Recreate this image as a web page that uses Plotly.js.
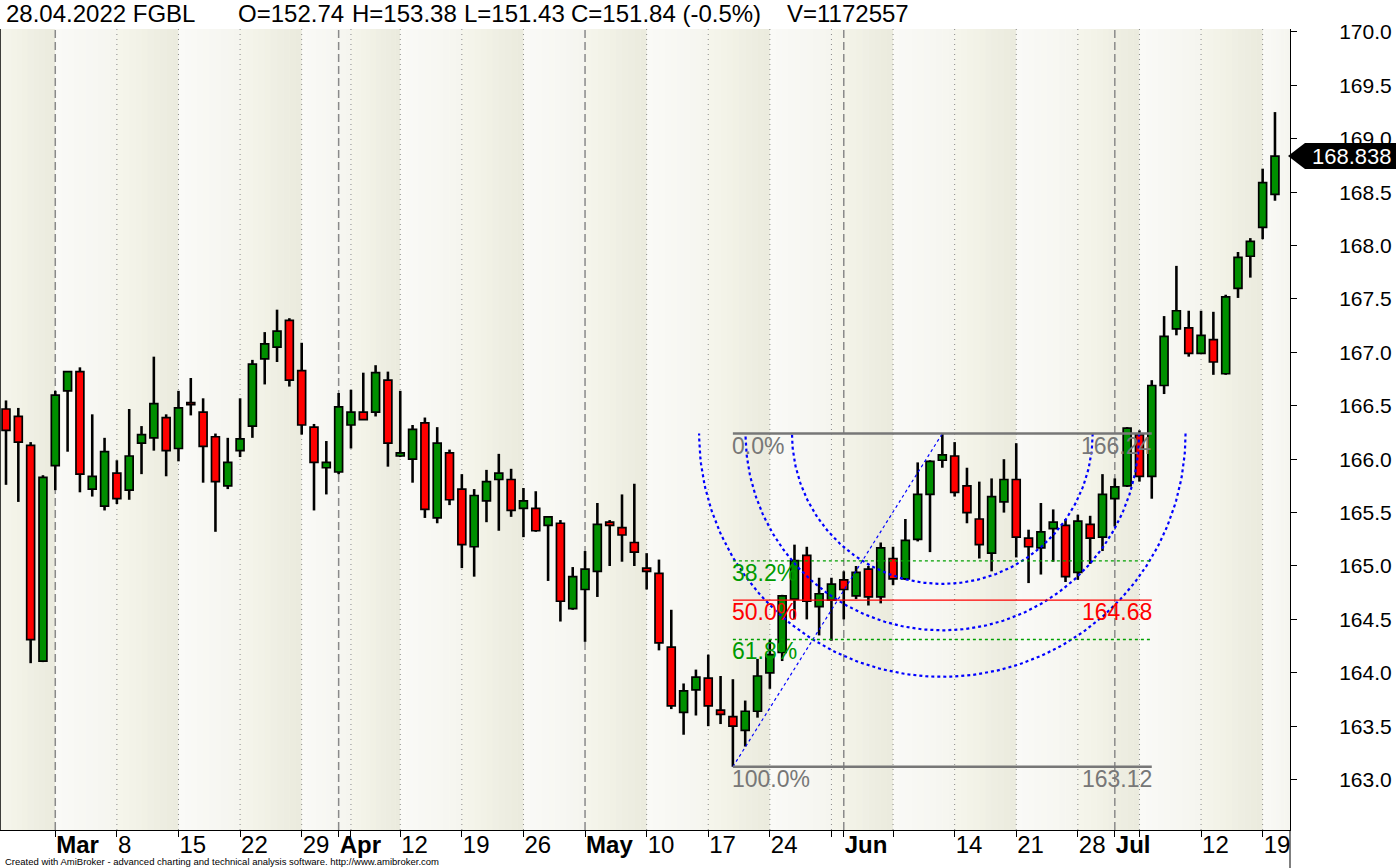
<!DOCTYPE html>
<html><head><meta charset="utf-8">
<script src="https://cdn.plot.ly/plotly-3.0.1.min.js"></script>
<style>html,body{margin:0;padding:0;background:#fff;} #chart{width:1396px;height:868px;}</style>
</head><body><div id="chart"></div>
<script>
// ---------------- DATA ----------------
const opens = [166.47,166.40,166.13,164.11,165.94,166.64,166.82,165.72,165.56,165.87,
 165.71,166.15,166.20,166.39,166.10,166.53,166.44,166.21,165.75,166.08,
 166.31,166.94,167.05,167.30,166.83,166.30,165.92,165.88,166.32,166.44,
 166.44,166.74,166.03,166.00,166.34,165.45,166.06,165.72,165.18,165.61,
 165.81,165.81,165.54,165.54,165.38,165.40,164.60,164.78,164.95,165.41,
 165.36,165.22,164.98,164.93,164.24,163.63,163.84,163.95,163.65,163.59,
 163.46,163.64,164.00,164.19,164.69,165.10,164.62,164.68,164.87,164.72,
 164.97,164.71,165.07,164.88,165.25,165.67,165.99,166.03,165.75,165.44,
 165.12,165.60,165.81,165.26,165.17,165.35,165.38,164.94,165.39,165.27,
 165.63,165.75,166.23,165.84,166.69,167.22,167.23,166.99,167.12,166.80,
 167.60,167.90,168.17,168.48];
const highs = [166.55,166.48,166.16,165.85,166.64,166.82,166.86,166.42,166.20,165.99,
 166.47,166.31,166.96,166.42,166.64,166.76,166.57,166.24,166.20,166.57,
 166.93,167.19,167.40,167.32,167.09,166.33,166.17,166.62,166.65,166.81,
 166.88,166.82,166.64,166.32,166.39,166.30,166.09,165.86,165.72,165.90,
 166.05,165.91,165.73,165.70,165.46,165.43,164.99,165.14,165.59,165.43,
 165.67,165.77,165.12,165.06,164.59,163.90,164.03,164.17,163.97,163.94,
 163.74,164.13,164.31,164.73,165.20,165.18,164.89,164.89,164.95,165.00,
 165.00,165.22,165.18,165.44,165.97,165.99,166.24,166.16,165.92,165.79,
 165.82,166.00,166.15,165.34,165.59,165.53,165.44,165.48,165.47,165.86,
 165.82,166.30,166.27,166.74,167.34,167.81,167.39,167.39,167.38,167.54,
 167.94,168.07,168.72,169.25];
const lows = [165.76,165.60,164.09,164.10,165.71,166.07,165.69,165.65,165.52,165.58,
 165.62,165.86,166.08,165.84,165.98,166.41,165.78,165.32,165.72,166.02,
 166.20,166.70,166.91,166.68,166.23,165.52,165.67,165.86,166.10,166.37,
 166.40,165.93,166.02,165.78,165.45,165.40,165.57,164.98,164.90,165.41,
 165.33,165.46,165.27,165.32,164.86,164.48,164.59,164.29,164.71,165.00,
 165.04,165.00,164.78,164.21,163.66,163.42,163.60,163.50,163.52,163.12,
 163.31,163.58,163.85,164.11,164.50,164.50,164.35,164.30,164.50,164.69,
 164.63,164.65,164.82,164.87,165.23,165.13,165.92,165.65,165.40,165.07,
 164.95,165.50,165.08,164.84,164.92,165.04,164.85,164.87,165.02,165.14,
 165.37,165.74,165.79,165.63,166.61,167.16,166.96,166.99,166.79,166.79,
 167.51,167.70,168.06,168.42];
const closes = [166.27,166.16,164.31,165.83,166.60,166.82,165.86,165.84,166.07,165.63,
 166.03,166.23,166.52,166.08,166.48,166.51,166.12,165.79,165.97,166.19,
 166.89,167.08,167.20,166.74,166.32,165.97,165.97,166.49,166.44,166.37,
 166.81,166.15,166.06,166.28,165.53,166.15,165.62,165.20,165.66,165.79,
 165.87,165.52,165.61,165.33,165.46,164.67,164.90,164.97,165.39,165.38,
 165.29,165.13,164.95,164.28,163.69,163.83,163.96,163.69,163.61,163.50,
 163.64,163.97,164.17,164.72,165.05,164.67,164.74,164.83,164.78,164.94,
 164.71,165.17,164.88,165.24,165.67,165.98,166.04,165.69,165.50,165.20,
 165.65,165.81,165.27,165.18,165.32,165.41,164.90,165.42,165.26,165.67,
 165.74,166.29,165.84,166.69,167.15,167.39,166.99,167.16,166.91,167.52,
 167.89,168.04,168.59,168.838];

// x-axis ticks (bar index of each tick) and their labels
const tickIdx  = [4, 9, 14, 19, 24, 27, 28, 32, 37, 42, 47, 52, 57, 62, 67, 68, 72, 77, 82, 87, 90, 92, 97, 102];
const tickText = ['<b>Mar</b>','8','15','22','29','<b>Apr</b>','','12','19','26','<b>May</b>','10','17','24','','<b>Jun</b>','','14','21','28','<b>Jul</b>','','12','19'];
const monthIdx = [4, 27, 47, 68, 90];
const weekIdx  = [4, 9, 14, 19, 24, 28, 32, 37, 42, 47, 52, 57, 62, 67, 72, 77, 82, 87, 92, 97, 102];

// y-axis tick values
const yTicks = [163.0,163.5,164.0,164.5,165.0,165.5,166.0,166.5,167.0,167.5,168.0,168.5,169.0,169.5,170.0];

// Fibonacci study anchors
const fibLowIdx = 59, fibLow = 163.12, fibHighIdx = 76, fibHigh = 166.24, fibEndIdx = 93;
const fibLevels = [0, 38.2, 50, 61.8, 100];
const arcLevels = [0.382, 0.5, 0.618];
const lastClose = 168.838;

// header line
const headerTexts = ['28.04.2022 FGBL','O=152.74','H=153.38','L=151.43','C=151.84 (-0.5%)','V=1172557'];
const footerText = 'Created with AmiBroker - advanced charting and technical analysis software. http://www.amibroker.com';

// ---------------- LAYOUT GEOMETRY ----------------
const W = 1396, H = 868;
const M = {l:0, r:106, t:29, b:38, pad:0};
const plotW = W - M.l - M.r, plotH = H - M.t - M.b;
const xRange = [-0.487, 104.22];
const yRange = [162.528, 170.028];
const sx = plotW / (xRange[1]-xRange[0]);
const sy = plotH / (yRange[1]-yRange[0]);
const FONT = 'Liberation Sans, Arial, sans-serif';
const headerX = [4, 236, 350, 462, 569, 785];

const idx = opens.map((_, i) => i);

// ---------------- TRACES ----------------
const GREEN = '#008f00', RED = '#ff0000';
const traces = [];
traces.push({
  type:'bar', x: idx, y: highs.map((h,i)=>h-lows[i]), base: lows,
  width: 0.21, marker:{color:'#000', line:{width:0}}, hoverinfo:'skip', showlegend:false
});
traces.push({
  type:'bar', x: idx,
  y: closes.map((c,i)=>Math.max(Math.abs(c-opens[i]), 0.004)),
  base: closes.map((c,i)=>Math.min(c, opens[i])),
  width: 0.64,
  marker:{color: closes.map((c,i)=> c>=opens[i] ? GREEN : RED), line:{color:'#000', width:1.7}},
  hoverinfo:'skip', showlegend:false
});

// diagonal trend of the fib study
traces.push({type:'scatter', mode:'lines', x:[fibLowIdx, fibHighIdx], y:[fibLow, fibHigh],
  line:{color:'#0000ff', width:1.2, dash:'dot'}, hoverinfo:'skip', showlegend:false});

// fib arcs (screen-space circles around the high point)
const dxp = (fibHighIdx-fibLowIdx)*sx, dyp = (fibHigh-fibLow)*sy;
const Lp = Math.hypot(dxp, dyp);
arcLevels.forEach(f => {
  const r = Lp*f, xs=[], ys=[];
  for (let a=0; a<=180; a+=1) {
    const t = a*Math.PI/180;
    xs.push(fibHighIdx + r*Math.cos(t)/sx);
    ys.push(fibHigh - r*Math.sin(t)/sy);
  }
  traces.push({type:'scatter', mode:'lines', x:xs, y:ys,
    line:{color:'#0000ff', width:2.2, dash:'dot'}, hoverinfo:'skip', showlegend:false});
});

// ---------------- SHAPES ----------------
const shapes = [];
function lerp(a,b,t){return Math.round(a+(b-a)*t);}
const edges = [xRange[0], ...weekIdx, xRange[1]];
for (let k=0; k<edges.length-1; k++) {
  const beige = k%2===0;
  const c0 = beige ? [245,245,235] : [250,250,247];
  const c1 = beige ? [235,235,222] : [245,245,239];
  const N = 10, a = edges[k], b = edges[k+1];
  for (let j=0; j<N; j++) {
    const t = j/(N-1);
    const col = `rgb(${lerp(c0[0],c1[0],t)},${lerp(c0[1],c1[1],t)},${lerp(c0[2],c1[2],t)})`;
    shapes.push({type:'rect', xref:'x', yref:'paper', x0:a+(b-a)*j/N, x1:a+(b-a)*(j+1)/N+0.03, y0:0, y1:1,
      fillcolor:col, line:{width:0}, layer:'below'});
  }
}
weekIdx.filter(i=>!monthIdx.includes(i)).forEach(i=>{
  shapes.push({type:'line', xref:'x', yref:'paper', x0:i, x1:i, y0:0, y1:1,
    line:{color:'#8a8a8a', width:1, dash:'1px,4px'}, layer:'below'});
});
monthIdx.forEach(i=>{
  shapes.push({type:'line', xref:'x', yref:'paper', x0:i, x1:i, y0:0, y1:1,
    line:{color:'#8a8a8a', width:1.5, dash:'8px,4px'}, layer:'below'});
});
// fib horizontal lines
const fibPrice = l => fibHigh - (fibHigh-fibLow)*l/100;
const fibStyle = {0:{c:'#777777',w:2.5,d:'solid'}, 38.2:{c:'#00a000',w:1.3,d:'3px,3px'}, 50:{c:'#ff0000',w:1.2,d:'solid'},
  61.8:{c:'#00a000',w:1.3,d:'3px,3px'}, 100:{c:'#777777',w:2.5,d:'solid'}};
fibLevels.forEach(l=>{
  const s = fibStyle[l];
  shapes.push({type:'line', xref:'x', yref:'y', x0:fibLowIdx, x1:fibEndIdx, y0:fibPrice(l), y1:fibPrice(l),
    line:{color:s.c, width:s.w, dash:s.d}, layer:'above'});
});
// left frame line & right axis extension
shapes.push({type:'line', xref:'paper', yref:'paper', x0:0, x1:0, y0:0, y1:1, line:{color:'#000', width:1.5}});
shapes.push({type:'line', xref:'paper', yref:'paper', x0:1, x1:1, y0:0, y1:-M.b/plotH, line:{color:'#000', width:1}});
// last price marker
const pxX = px => (px - M.l)/plotW;
const pY = p => (p - yRange[0])/(yRange[1]-yRange[0]);
const hh = 13/plotH;
const yc = pY(lastClose);
shapes.push({type:'path', xref:'paper', yref:'paper',
  path:`M ${pxX(1288)},${yc} L ${pxX(1305)},${yc+hh} L ${pxX(1396)},${yc+hh} L ${pxX(1396)},${yc-hh} L ${pxX(1305)},${yc-hh} Z`,
  fillcolor:'#000', line:{width:0}, layer:'above'});

// ---------------- ANNOTATIONS ----------------
const annotations = [];
headerTexts.forEach((t,i)=>{
  annotations.push({xref:'paper', yref:'paper', x:pxX(headerX[i]), y:1+(M.t-14)/plotH, xanchor:'left', yanchor:'middle',
    text:t, showarrow:false, font:{family:FONT, size:24, color:'#000'}});
});
annotations.push({xref:'paper', yref:'paper', x:pxX(3), y:-(861-M.t-plotH)/plotH, xanchor:'left', yanchor:'middle',
  text:footerText, showarrow:false, font:{family:FONT, size:9.5, color:'#000'}});
annotations.push({xref:'paper', yref:'paper', x:pxX(1394), y:yc, xanchor:'right', yanchor:'middle',
  text:lastClose.toFixed(3), showarrow:false, font:{family:FONT, size:22, color:'#fff'}});
const fibColor = {0:'#777777', 38.2:'#009a00', 50:'#ff0000', 61.8:'#009a00', 100:'#777777'};
fibLevels.forEach(l=>{
  annotations.push({xref:'x', yref:'y', x:fibLowIdx, y:fibPrice(l), xanchor:'left', yanchor:'top', xshift:-3, yshift:3,
    text:l.toFixed(1)+'%', showarrow:false, font:{family:FONT, size:23, color:fibColor[l]}});
  if (l===0 || l===50 || l===100) {
    annotations.push({xref:'x', yref:'y', x:fibEndIdx, y:fibPrice(l), xanchor:'right', yanchor:'top', xshift:2, yshift:3,
      text:fibPrice(l).toFixed(2), showarrow:false, font:{family:FONT, size:23, color:fibColor[l]}});
  }
});

// ---------------- LAYOUT ----------------
const layout = {
  width:W, height:H, margin:M, paper_bgcolor:'#ffffff', plot_bgcolor:'#f8f8f4',
  barmode:'overlay', showlegend:false, hovermode:false,
  xaxis:{range:xRange, showgrid:false, zeroline:false, showline:true, linecolor:'#000', linewidth:1,
    tickmode:'array', tickvals:tickIdx, ticktext:tickText, ticks:'outside', ticklen:6, tickcolor:'#000', tickwidth:1,
    tickangle:0, ticklabelposition:'outside right', ticklabelstandoff:-7, tickfont:{family:FONT, size:24, color:'#000'},
    automargin:false, fixedrange:true},
  yaxis:{range:yRange, side:'right', showgrid:false, zeroline:false, showline:true, linecolor:'#000', linewidth:1,
    tickmode:'array', tickvals:yTicks, ticktext:yTicks.map(v=>v.toFixed(1)), ticks:'outside', ticklen:6, tickcolor:'#000',
    ticklabelposition:'outside', ticklabelstandoff:38,
    tickfont:{family:FONT, size:21, color:'#000'}, automargin:false, fixedrange:true},
  shapes:shapes, annotations:annotations
};
Plotly.newPlot('chart', traces, layout, {staticPlot:true, displayModeBar:false});
</script></body></html>
